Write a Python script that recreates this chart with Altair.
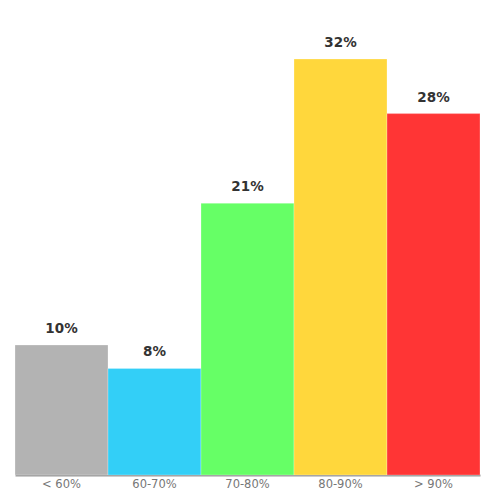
import altair as alt
import pandas as pd

categories = ["< 60%", "60-70%", "70-80%", "80-90%", "> 90%"]
values = [10.0, 8.2, 20.9, 32.0, 27.8]
labels = ["10%", "8%", "21%", "32%", "28%"]
colors = ["#b3b3b3", "#33cff7", "#66ff66", "#ffd73c", "#ff3535"]

df = pd.DataFrame({"cat": categories, "val": values, "label": labels})

x = alt.X("cat:N", sort=categories, title=None,
          scale=alt.Scale(paddingInner=0, paddingOuter=0),
          axis=alt.Axis(labelAngle=0, labelColor="#777777", labelFontSize=11.5,
                        labelFont="DejaVu Sans", labelPadding=3,
                        domainColor="#999999", domainWidth=2, ticks=False))
y = alt.Y("val:Q", title=None, scale=alt.Scale(domain=[0, 35], nice=False),
          axis=None)

bars = alt.Chart(df).mark_bar(stroke="white", strokeOpacity=0.25, strokeWidth=1).encode(
    x=x, y=y,
    color=alt.Color("cat:N", sort=categories,
                    scale=alt.Scale(domain=categories, range=colors), legend=None),
)

text = alt.Chart(df).mark_text(dy=-16, fontSize=13.5, fontWeight="bold",
                               font="DejaVu Sans", color="#333333").encode(
    x=x, y=y, text="label:N"
)

chart = (bars + text).properties(
    width=465, height=455,
    autosize=alt.AutoSizeParams(type="none"),
    padding={"left": 7, "top": 12, "right": 4, "bottom": 18},
).configure_view(stroke=None)

chart.save("out.html", embed_options={"renderer": "svg", "actions": False})
